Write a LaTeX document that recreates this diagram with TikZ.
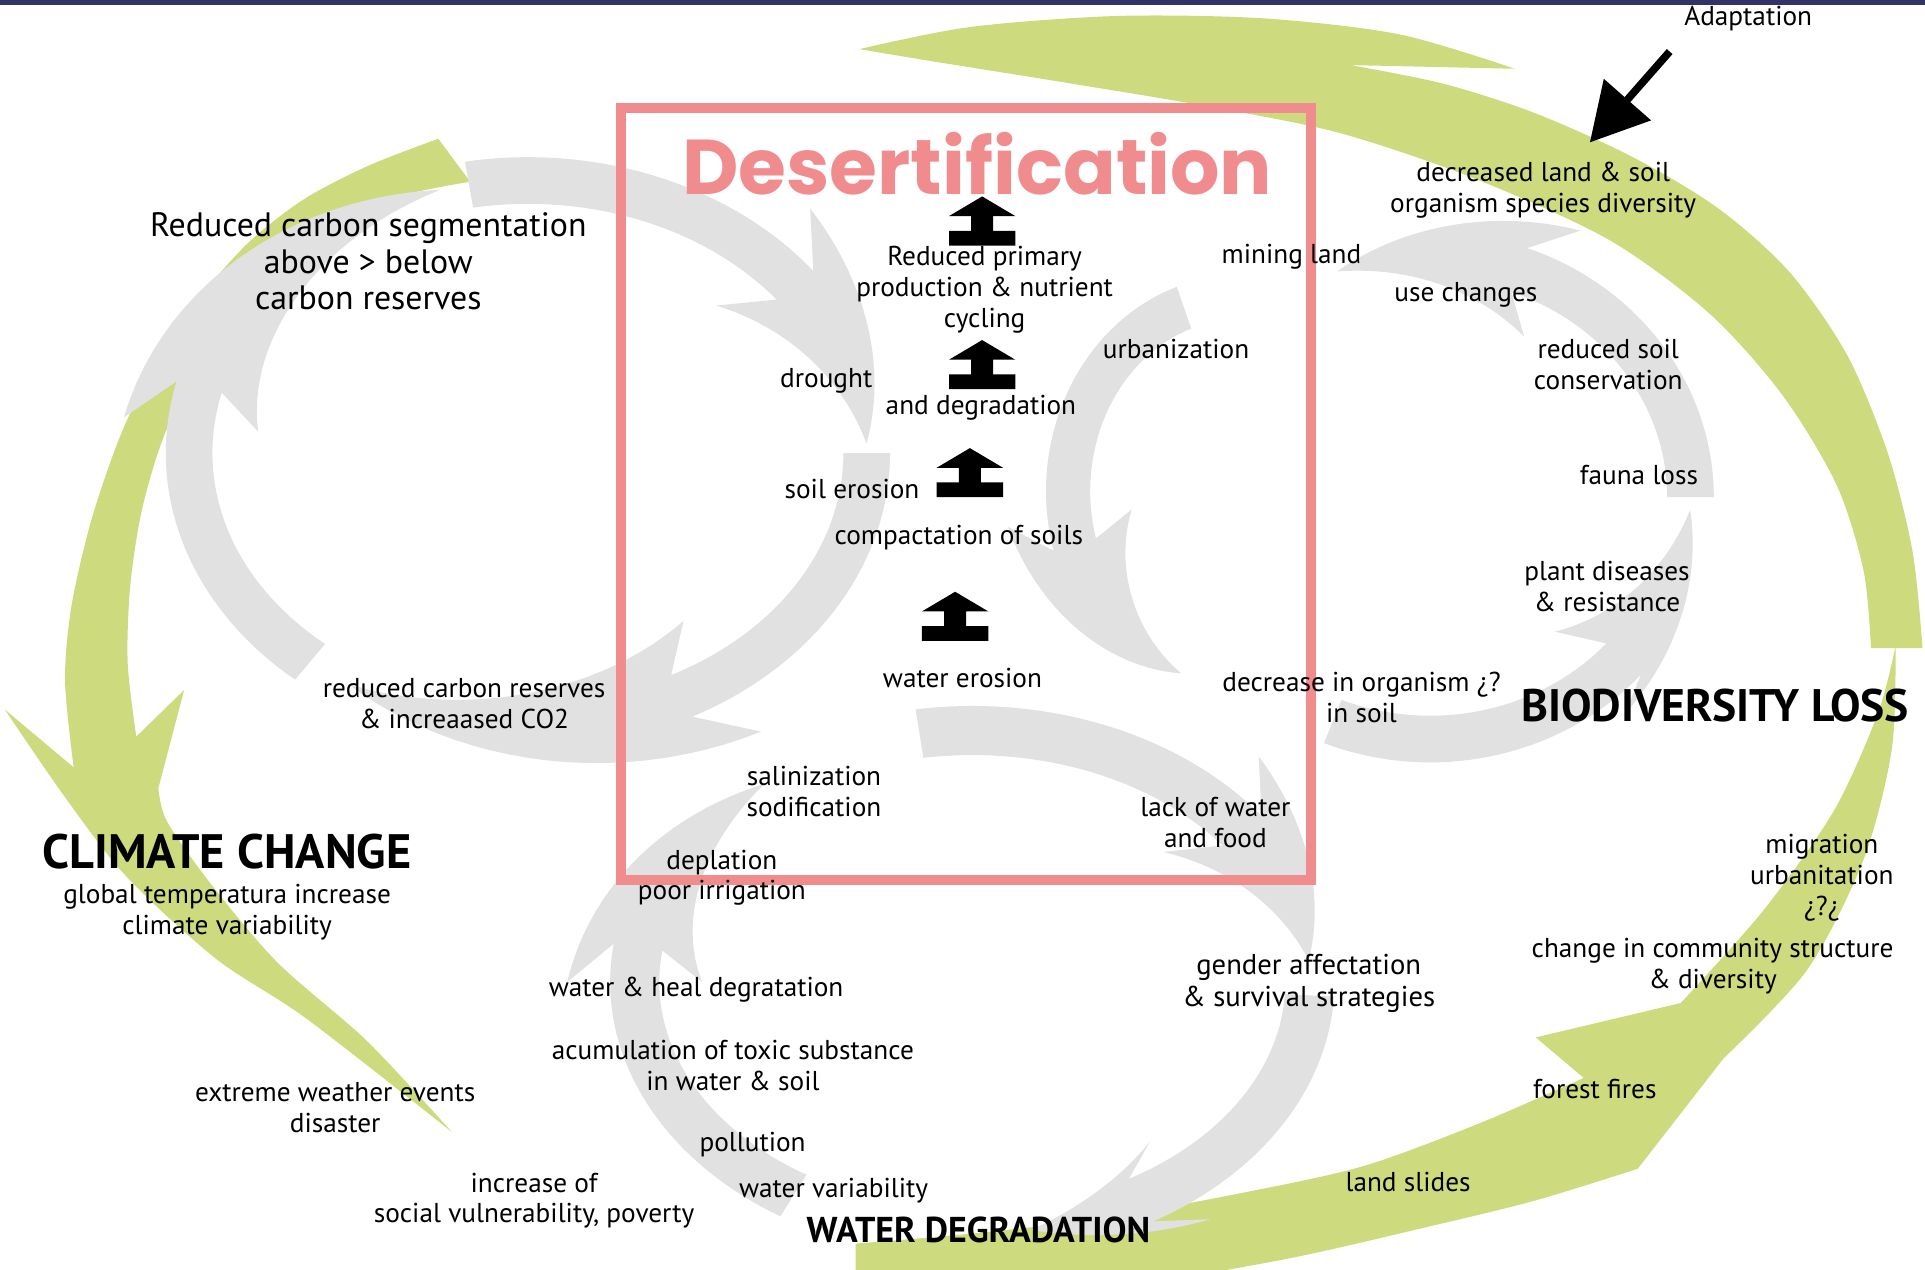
\documentclass[tikz,border=0pt]{standalone}
\usepackage{fontspec}
\setmainfont{PT Sans}
\newfontfamily\titlefont{Poppins}
\usetikzlibrary{arrows.meta}

\definecolor{ringgray}{RGB}{225,225,225}
\definecolor{leafgreen}{RGB}{205,218,125}
\definecolor{deserpink}{RGB}{240,140,142}
\definecolor{topnavy}{RGB}{50,50,105}

% current ring: centre and radii
\newcommand{\ringx}{0}
\newcommand{\ringy}{0}
\newcommand{\ringa}{1}
\newcommand{\ringb}{1}
\newcommand{\setring}[4]{\renewcommand{\ringx}{#1}\renewcommand{\ringy}{#2}%
  \renewcommand{\ringa}{#3}\renewcommand{\ringb}{#4}}
% grey ring arrow: half width, tail, barbs, tip (angles), outer and inner barb
\newcommand{\swoosh}[6]{%
  \pgfmathsetmacro\swnotch{#3+(#4>#2 ? 8 : -8)}%
  \fill[ringfill]
    plot[domain=#2:\swnotch, samples=36] ({\ringx+(\ringa+#1)*cos(\x)}, {\ringy+(\ringb+#1)*sin(\x)})
    -- ({\ringx+(\ringa+#1+#5)*cos(#3)}, {\ringy+(\ringb+#1+#5)*sin(#3)})
    -- plot[domain=0:1, samples=24] ({\ringx+(\ringa+(#1+#5)*(1-\x))*cos(#3+(#4-#3)*\x)}, {\ringy+(\ringb+(#1+#5)*(1-\x))*sin(#3+(#4-#3)*\x)})
    -- plot[domain=1:0, samples=24] ({\ringx+(\ringa-(#1+#6)*(1-\x))*cos(#3+(#4-#3)*\x)}, {\ringy+(\ringb-(#1+#6)*(1-\x))*sin(#3+(#4-#3)*\x)})
    -- plot[domain=\swnotch:#2, samples=36] ({\ringx+(\ringa-#1)*cos(\x)}, {\ringy+(\ringb-#1)*sin(\x)})
    -- cycle;}

\tikzset{
  ringfill/.style={fill=ringgray},
  leaf/.style={fill=leafgreen},
  lbl/.style={align=center, inner sep=0pt, font=\fontsize{7.9}{8.9}\selectfont},
  biglbl/.style={lbl, font=\fontsize{9.8}{10.6}\selectfont},
  cyclehead/.style={align=center, inner sep=0pt, font=\bfseries\fontsize{14}{16}\selectfont},
  adaptarrow/.style={line width=2.2pt, -{Triangle[length=5.8mm,width=6.2mm]}},
  uparrow/.pic={\fill (0,0) -- (27,16) -- (9,16) -- (9,28) -- (27,28) -- (27,40)
    -- (-27,40) -- (-27,28) -- (-9,28) -- (-9,16) -- (-27,16) -- cycle;}
}

\begin{document}
\begin{tikzpicture}[x=0.0125cm, y=-0.0125cm]
\useasboundingbox (0,0) rectangle (1568,1034);
\clip (0,0) rectangle (1568,1034);

% green cycle arrows
\fill[leaf] plot[smooth] coordinates {(357,113) (300,135) (248,162) (203,197) (163,242) (128,293) (98,355) (74,425) (58,495) (53,555) (60,625)}
  -- (4,578)
  -- plot[smooth] coordinates {(4,578) (52,648) (103,714) (176,781) (250,830) (368,922)}
  -- plot[smooth] coordinates {(368,922) (299,848) (226,784) (171,719) (136,669) (129,642)}
  -- (150,562)
  -- plot[smooth] coordinates {(111,600) (104,540) (106,478) (115,418) (131,362) (155,308) (190,257) (234,212) (283,178) (333,158) (383,148)}
  -- cycle;
\fill[leaf] (1524,528)
  -- plot[smooth] coordinates {(1524,528) (1518,465) (1496,395) (1452,322) (1392,255) (1310,195) (1200,145) (1090,108) (980,86) (860,66) (760,50) (700,40)}
  -- plot[smooth] coordinates {(700,40) (790,22) (910,13) (1030,15) (1140,28) (1234,56)}
  -- (1100,53)
  -- plot[smooth] coordinates {(1100,53) (1175,68) (1250,92) (1330,128) (1400,170) (1458,222) (1505,290) (1538,370) (1558,450) (1566,528)}
  -- cycle;
\fill[leaf] (697,1013)
  -- plot[smooth] coordinates {(697,1013) (800,1004) (900,992) (1010,972) (1110,950) (1205,915) (1290,878)}
  -- (1251,845) -- (1369,817)
  -- plot[smooth] coordinates {(1369,817) (1436,742) (1494,660) (1530,580) (1544,526)}
  -- plot[smooth] coordinates {(1544,526) (1541,610) (1518,700) (1472,790) (1404,862)}
  -- (1334,952)
  -- plot[smooth] coordinates {(1334,952) (1250,978) (1160,1000) (1050,1025) (930,1045) (800,1055) (697,1060)}
  -- cycle;

% grey rings
\setring{430}{369}{276}{222}
\swoosh{19}{260}{314}{358}{36}{36}
\swoosh{19}{0}{55}{122}{36}{36}
\swoosh{19}{130}{186}{255}{36}{36}
\setring{1010}{400}{140}{158}
\swoosh{18}{251}{172}{110}{33}{33}
\setring{1165}{405}{212}{197}
\swoosh{19}{360}{298}{249}{30}{30}
\swoosh{19}{112}{50}{3}{15}{35}
\setring{792}{800}{275}{205}
\swoosh{20}{261}{315}{355}{35}{35}
\swoosh{20}{3}{52}{80}{20}{20}
\swoosh{20}{122}{180}{232}{35}{35}

\draw[line width=0.1cm, deserpink] (506,88) rectangle (1068,717);
\fill[topnavy] (0,0) rectangle (1568,4);

\node[font=\titlefont\bfseries\fontsize{22.5}{24}\selectfont, text=deserpink, inner sep=0pt] (title) at (796,133) {Desertification};

% climate change
\node[biglbl] (carbonseg) at (300,213) {Reduced carbon segmentation\\above > below\\carbon reserves};
\node[cyclehead] (climate) at (185,694) {CLIMATE CHANGE};
\node[lbl] (climatesub) at (185,743) {global temperatura increase\\climate variability};
\node[lbl] (carbonres) at (378,573) {reduced carbon reserves\\\& increaased CO2};
\node[lbl] (extreme) at (273,902) {extreme weather events\\disaster};
\node[lbl] (vulner) at (435,978) {increase of\\social vulnerability, poverty};

% desertification
\node[lbl] (primary) at (802,236) {Reduced primary\\production \& nutrient\\cycling};
\node[lbl] (drought) at (673,310) {drought};
\node[lbl] (degrad) at (799,332) {and degradation};
\node[lbl] (soilero) at (694,398) {soil erosion};
\node[lbl] (compact) at (781,438) {compactation of soils};
\node[lbl] (watero) at (784,552) {water erosion};
\node[lbl] (mining) at (1052,209) {mining land};
\node[lbl] (urban) at (958,284) {urbanization};
\node[lbl] (organism) at (1109,568) {decrease in organism ¿?\\in soil};
\node[lbl] (salin) at (663,645) {salinization\\sodification};
\node[lbl] (lackwater) at (990,670) {lack of water\\and food};
\node[lbl] (deplation) at (588,715) {deplation\\poor irrigation};
\pic at (800,160) {uparrow};
\pic at (800,277) {uparrow};
\pic at (790,365) {uparrow};
\pic at (778,482) {uparrow};

% water degradation
\node[lbl] (heal) at (567,806) {water \& heal degratation};
\node[lbl] (toxic) at (597,868) {acumulation of toxic substance\\in water \& soil};
\node[lbl] (pollution) at (613,932) {pollution};
\node[lbl] (watervar) at (679,970) {water variability};
\node[cyclehead, font=\bfseries\fontsize{10.4}{12}\selectfont] (waterdeg) at (797,1002) {WATER DEGRADATION};
\node[lbl, font=\fontsize{8.3}{9.3}\selectfont] (gender) at (1066,801) {gender affectation\\\& survival strategies};
\node[lbl] (landslides) at (1147,963) {land slides};
\node[lbl] (fires) at (1299,887) {forest fires};
\node[lbl] (migration) at (1484,715) {migration\\urbanitation\\¿?¿};
\node[lbl] (community) at (1395,787) {change in community structure\\\& diversity};

% biodiversity loss
\node[lbl] (adapt) at (1424,15) {Adaptation};
\coordinate (adapt-tail) at (1360,42);
\coordinate (adapt-tip) at (1295,116);
\draw[adaptarrow] (adapt-tail) -- (adapt-tip);
\node[lbl] (landsoil) at (1257,155) {decreased land \& soil\\organism species diversity};
\node[lbl] (usechg) at (1194,240) {use changes};
\node[lbl] (soilcons) at (1310,297) {reduced soil\\conservation};
\node[lbl] (fauna) at (1335,387) {fauna loss};
\node[lbl] (plantdis) at (1309,478) {plant diseases\\\& resistance};
\node[cyclehead, font=\bfseries\fontsize{13.2}{15}\selectfont] (biodiv) at (1397,575) {BIODIVERSITY LOSS};
\end{tikzpicture}
\end{document}
